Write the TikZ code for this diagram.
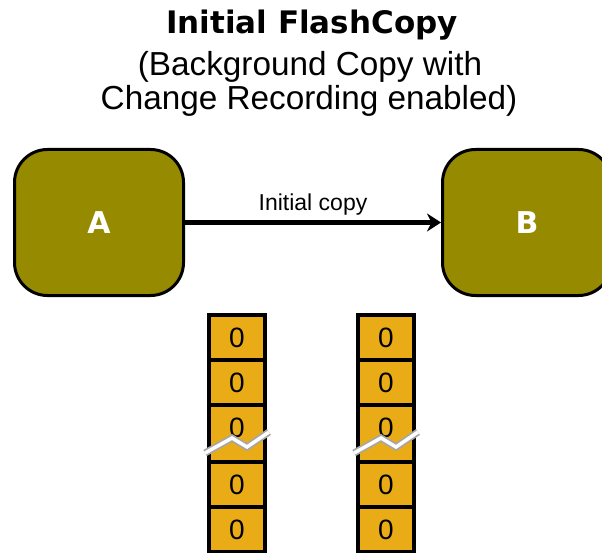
\documentclass[tikz,border=0pt]{standalone}
\usepackage{fontspec}
\setmainfont{Liberation Sans}
\newfontfamily\heavyfont{DejaVu Sans}
\usetikzlibrary{arrows.meta}

\definecolor{olivebox}{RGB}{150,139,0}
\definecolor{cellfill}{RGB}{234,172,22}

\tikzset{
  volume/.style={draw=black, line width=3pt, fill=olivebox, rounded corners=33pt,
    minimum width=169pt, minimum height=146pt, text=white,
    font=\heavyfont\bfseries\fontsize{30}{30}\selectfont},
  bitcell/.style={draw=black, line width=4pt, fill=cellfill, inner sep=0pt,
    minimum width=56pt, minimum height=45pt, font=\fontsize{28}{28}\selectfont},
  copyarrow/.style={line width=4.5pt, -{Stealth[length=14pt,width=18pt]}},
  breakedge/.style={draw=black!35, line width=7pt},
  breakfill/.style={draw=white, line width=3.5pt}
}

\begin{document}
\begin{tikzpicture}[x=1pt,y=-1pt]
  \useasboundingbox (0,0) rectangle (602,553);

  % Heading
  \node[anchor=base, font=\heavyfont\bfseries\fontsize{31}{36}\selectfont] (title) at (312,34) {Initial FlashCopy};
  \node[anchor=base, font=\fontsize{33.3}{35}\selectfont] (subA) at (310,76) {(Background Copy with};
  \node[anchor=base, font=\fontsize{33.3}{35}\selectfont] (subB) at (309,110) {Change Recording enabled)};

  % Source and target volumes
  \node[volume] (A) at (99,222.5) {A};
  \node[volume] (B) at (527,222.5) {B};
  \draw[copyarrow] (A) -- (B) node[midway, anchor=base, yshift=12pt, font=\fontsize{23}{23}\selectfont] (copylbl) {Initial copy};

  % Bitmaps under the volumes
  \foreach \cx/\side in {237/src,386/tgt}{
    \begin{scope}[shift={(\cx,0)}]
      % cells below the break
      \node[bitcell] (\side-low0) at (0,439.5) {};
      \foreach \i in {1,2}
        \node[bitcell] (\side-low\i) at (0,439.5+45*\i) {0};

      % cells above the break, cut along the zigzag
      \begin{scope}
        \clip (-40,300) -- (40,300) -- (40,432) -- (32,432) -- (10,447) -- (-5,438) -- (-32,453) -- (-40,453) -- cycle;
        \foreach \i in {0,1,2}
          \node[bitcell] (\side-up\i) at (0,337.5+45*\i) {0};
      \end{scope}

      % the break line
      \draw[breakedge] (-32,453) -- (-5,438) -- (10,447) -- (32,432);
      \draw[breakfill] (-32,453) -- (-5,438) -- (10,447) -- (32,432);
    \end{scope}
  }
\end{tikzpicture}
\end{document}
